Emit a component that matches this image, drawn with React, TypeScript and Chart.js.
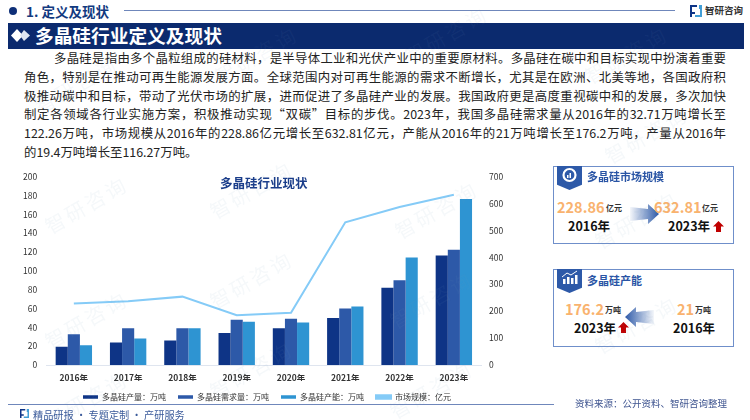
import React, { useEffect, useRef } from "react";
import { Chart, registerables } from "chart.js";

Chart.register(...registerables);

const COMMA = "\uFF0C";
const COLON = "\uFF1A";

const years = ["2016年", "2017年", "2018年", "2019年", "2020年", "2021年", "2022年", "2023年"];
const production = [19.4, 24, 26, 34, 39, 50, 82, 116.27];
const demand = [32.71, 39, 39, 48, 49, 60, 90, 122.26];
const capacity = [21, 28, 39, 46, 45, 62, 114, 176.2];
const marketSize = [228.86, 237, 254, 185, 194, 530, 587, 632.81];

const paragraphLines = [
  `多晶硅是指由多个晶粒组成的硅材料${COMMA}是半导体工业和光伏产业中的重要原材料。多晶硅在碳中和目标实现中扮演着重要`,
  `角色${COMMA}特别是在推动可再生能源发展方面。全球范围内对可再生能源的需求不断增长${COMMA}尤其是在欧洲、北美等地${COMMA}各国政府积`,
  `极推动碳中和目标${COMMA}带动了光伏市场的扩展${COMMA}进而促进了多晶硅产业的发展。我国政府更是高度重视碳中和的发展${COMMA}多次加快`,
  `制定各领域各行业实施方案${COMMA}积极推动实现\u201C双碳\u201D目标的步伐。2023年${COMMA}我国多晶硅需求量从2016年的32.71万吨增长至`,
  `122.26万吨${COMMA}市场规模从2016年的228.86亿元增长至632.81亿元${COMMA}产能从2016年的21万吨增长至176.2万吨${COMMA}产量从2016年`,
  "的19.4万吨增长至116.27万吨。",
];

const FONT = '"Noto Sans CJK SC", "Noto Sans", sans-serif';

const abs = (left: number, top: number, extra: React.CSSProperties = {}): React.CSSProperties => ({
  position: "absolute", left, top, whiteSpace: "nowrap", ...extra,
});

function Txt({ x, y, size, color, bold, children }: any) {
  return (
    <div style={abs(x, y - size * 0.75, { fontSize: size, lineHeight: `${size * 1.5}px`, color, fontWeight: bold ? 700 : 400 })}>
      {children}
    </div>
  );
}

function UpArrow({ x, y }: { x: number; y: number }) {
  return (
    <svg style={abs(x, y)} width="11" height="11" viewBox="0 0 11 11">
      <path d="M5.5 0 L11 5.5 L8 5.5 L8 11 L3 11 L3 5.5 L0 5.5 Z" fill="#c00000" />
    </svg>
  );
}

function BigArrow({ x, y, flip, id }: { x: number; y: number; flip?: boolean; id: string }) {
  return (
    <svg style={abs(x, y, { transform: flip ? "scaleX(-1)" : undefined })} width="29" height="20" viewBox="0 0 29 20">
      <defs>
        <linearGradient id={id} x1="0" x2="1" y1="0" y2="0">
          <stop offset="0" stopColor="#2d59a8" stopOpacity="0.05" />
          <stop offset="1" stopColor="#2d59a8" stopOpacity="1" />
        </linearGradient>
      </defs>
      <path d="M0 3 L18 5 L18 0 L29 10 L18 20 L18 15 L0 17 Z" fill={`url(#${id})`} />
    </svg>
  );
}

function Badge({ y, kind }: { y: number; kind: "ring" | "bars" }) {
  return (
    <div style={abs(557, y, { width: 25, height: 24, background: "#2d59a8", clipPath: "polygon(0 0,100% 0,100% 78%,50% 100%,0 78%)" })}>
      <svg width="25" height="24" viewBox="0 0 25 24">
        {kind === "ring" ? (
          <g>
            <circle cx="12.5" cy="9" r="6" fill="none" stroke="#fff" strokeWidth="2.2" />
            <rect x="10" y="9" width="1.5" height="3" fill="#fff" />
            <rect x="12.5" y="7" width="1.5" height="5" fill="#fff" />
          </g>
        ) : (
          <g fill="#fff">
            <rect x="6" y="10" width="2.5" height="5" />
            <rect x="10" y="8" width="2.5" height="7" />
            <rect x="14" y="9" width="2.5" height="6" />
            <rect x="18" y="6" width="2.5" height="9" />
            <path d="M5 8 L10 4 L14 6 L20 2" stroke="#fff" strokeWidth="1" fill="none" />
          </g>
        )}
      </svg>
    </div>
  );
}

function LogoMark({ x, y, s, color }: { x: number; y: number; s: number; color: string }) {
  return (
    <svg style={abs(x, y)} width={s} height={s} viewBox="0 0 12 12">
      <path d="M0 0 H7 V2 H2 V7 H5 V9 H2 V12 H0 Z" fill={color} />
      <path d="M9 0 H12 V12 H5 V10 H10 V4 H9 Z" fill="#2e94d2" opacity="0.9" />
    </svg>
  );
}

const watermarkSpots = [
  [30, 70], [210, 40], [400, 20], [580, 40], [40, 190], [205, 175], [390, 195], [600, 120],
  [40, 305], [205, 265], [385, 285], [590, 205], [40, 385], [205, 355], [385, 375], [590, 310],
];

export default function App() {
  const ref = useRef<HTMLCanvasElement>(null);

  useEffect(() => {
    const chart = new Chart(ref.current!, {
      type: "bar",
      data: {
        labels: years,
        datasets: [
          { type: "line", label: `市场规模${COLON}亿元`, data: marketSize, yAxisID: "y1", borderColor: "#85cbf7", backgroundColor: "#85cbf7", borderWidth: 2, pointRadius: 0, tension: 0, order: 0 },
          { label: `多晶硅产量${COLON}万吨`, data: production, yAxisID: "y", backgroundColor: "#0e3486", order: 1 },
          { label: `多晶硅需求量${COLON}万吨`, data: demand, yAxisID: "y", backgroundColor: "#2d59a8", order: 2 },
          { label: `多晶硅产能${COLON}万吨`, data: capacity, yAxisID: "y", backgroundColor: "#2e94d2", order: 3 },
        ] as any,
      },
      options: {
        animation: false,
        responsive: false,
        layout: { padding: { top: 8.5, bottom: 0 } },
        datasets: { bar: { categoryPercentage: 0.67, barPercentage: 1 } },
        plugins: {
          tooltip: { enabled: false },
          legend: {
            position: "bottom",
            labels: {
              boxWidth: 15,
              boxHeight: 3.5,
              padding: 12,
              color: "#333",
              font: { family: FONT, size: 8 },
              sort: (a: any, b: any) => {
                const rank = (i: number) => (i === 0 ? 3 : i - 1);
                return rank(a.datasetIndex) - rank(b.datasetIndex);
              },
            },
          },
        },
        scales: {
          x: {
            grid: { display: false, drawTicks: false },
            border: { color: "#dfe5ef", width: 1 },
            ticks: { color: "#333", font: { family: FONT, size: 8.5, weight: "bold" }, padding: 8, maxRotation: 0 },
            afterFit: (s: any) => { s.height = 16; },
          },
          y: {
            position: "left",
            min: 0, max: 200,
            grid: { display: false, drawTicks: false },
            border: { display: false },
            ticks: { stepSize: 20, color: "#333", font: { family: FONT, size: 8.5 }, padding: 9.5 },
            afterFit: (s: any) => { s.width = 24.7; },
          },
          y1: {
            position: "right",
            min: 0, max: 700,
            grid: { display: false, drawTicks: false },
            border: { display: false },
            ticks: { stepSize: 100, color: "#333", font: { family: FONT, size: 8.5 }, padding: 8 },
            afterFit: (s: any) => { s.width = 31; },
          },
        },
      } as any,
    });
    return () => chart.destroy();
  }, []);

  return (
    <div style={{ position: "fixed", left: 0, top: 0, width: 750, height: 420, background: "#fff", overflow: "hidden", fontFamily: FONT }}>
      {/* header */}
      <div style={abs(9, 7, { width: 8, height: 8, borderRadius: "50%", background: "#0e2f78" })} />
      <Txt x={26} y={11} size={13.5} color="#123a80" bold>1. 定义及现状</Txt>
      <div style={abs(124, 10, { width: 551, height: 1, background: "#6f87bb" })} />
      <LogoMark x={690} y={5} s={12} color="#0e3486" />
      <Txt x={705} y={10} size={9.5} color="#333" bold>智研咨询</Txt>
      <div style={abs(8, 22.5, { width: 736, height: 26, background: "#0b2a6e" })} />
      <svg style={abs(11, 29)} width="20" height="13" viewBox="0 0 20 13">
        <path d="M6 0 L12 6.5 L6 13 L0 6.5 Z" fill="#fff" />
        <path d="M13 1 L19 6.5 L13 12 L9 6.5 Z" fill="#dfe6f2" />
      </svg>
      <Txt x={35} y={35.5} size={18.7} color="#fff" bold>多晶硅行业定义及现状</Txt>

      {/* paragraph */}
      {paragraphLines.map((line, i) => (
        <div key={i} style={abs(i === 0 ? 54 : 24, 49 + i * 18.8, {
          width: i === 5 ? undefined : i === 0 ? 672 : 702,
          fontSize: 12.4, lineHeight: "18.8px", color: "#222",
          textAlign: "justify", textAlignLast: i === 5 ? "left" : "justify",
          whiteSpace: i === 5 ? "nowrap" : "normal", overflow: "hidden", height: 19,
        })}>{line}</div>
      ))}

      {/* chart */}
      <canvas ref={ref} width={490} height={249} style={abs(22, 162, { display: "block" })} />
      <Txt x={220} y={183} size={12.5} color="#1a3d8a" bold>多晶硅行业现状</Txt>

      {/* panel 1 */}
      <div style={abs(553, 166, { width: 179, height: 76, border: "1.3px solid #6f8fca", boxSizing: "content-box" })} />
      <Badge y={166} kind="ring" />
      <Txt x={587} y={176.5} size={11} color="#2a55a5" bold>多晶硅市场规模</Txt>
      <Txt x={557} y={207} size={14.5} color="#f9b26e" bold>228.86</Txt>
      <Txt x={606} y={208} size={8} color="#333" bold>亿元</Txt>
      <Txt x={568} y={226} size={12.5} color="#111" bold>2016年</Txt>
      <BigArrow x={630} y={204} id="ga" />
      <Txt x={654} y={207} size={14.5} color="#f9b26e" bold>632.81</Txt>
      <Txt x={702} y={208} size={8} color="#333" bold>亿元</Txt>
      <Txt x={668} y={226} size={12.5} color="#111" bold>2023年</Txt>
      <UpArrow x={713} y={221} />

      {/* panel 2 */}
      <div style={abs(553, 269, { width: 179, height: 76, border: "1.3px solid #6f8fca", boxSizing: "content-box" })} />
      <Badge y={269} kind="bars" />
      <Txt x={587} y={280} size={11} color="#2a55a5" bold>多晶硅产能</Txt>
      <Txt x={565} y={309} size={14.5} color="#f9b26e" bold>176.2</Txt>
      <Txt x={605} y={310} size={8} color="#333" bold>万吨</Txt>
      <Txt x={574} y={328} size={12.5} color="#111" bold>2023年</Txt>
      <UpArrow x={618} y={322} />
      <BigArrow x={625} y={307} flip id="gb" />
      <Txt x={677} y={309} size={14.5} color="#f9b26e" bold>21</Txt>
      <Txt x={695} y={310} size={8} color="#333" bold>万吨</Txt>
      <Txt x={673} y={328} size={12.5} color="#111" bold>2016年</Txt>

      {/* footer */}
      <div style={abs(8, 404, { width: 546, height: 1, background: "#6f87bb" })} />
      <LogoMark x={20} y={409} s={9} color="#0e3486" />
      <Txt x={33} y={414.5} size={10.2} color="#3a5a9a">精品研报 · 专题定制 · 产研服务</Txt>
      <Txt x={575} y={403} size={9.5} color="#3f5590">资料来源{COLON}公开资料、智研咨询整理</Txt>

      {/* watermark */}
      {watermarkSpots.map(([x, y], i) => (
        <div key={i} style={abs(x, y, { fontSize: 20, color: "rgba(120,150,190,0.07)", transform: "rotate(-30deg)", letterSpacing: 3, pointerEvents: "none" })}>智研咨询</div>
      ))}
    </div>
  );
}
